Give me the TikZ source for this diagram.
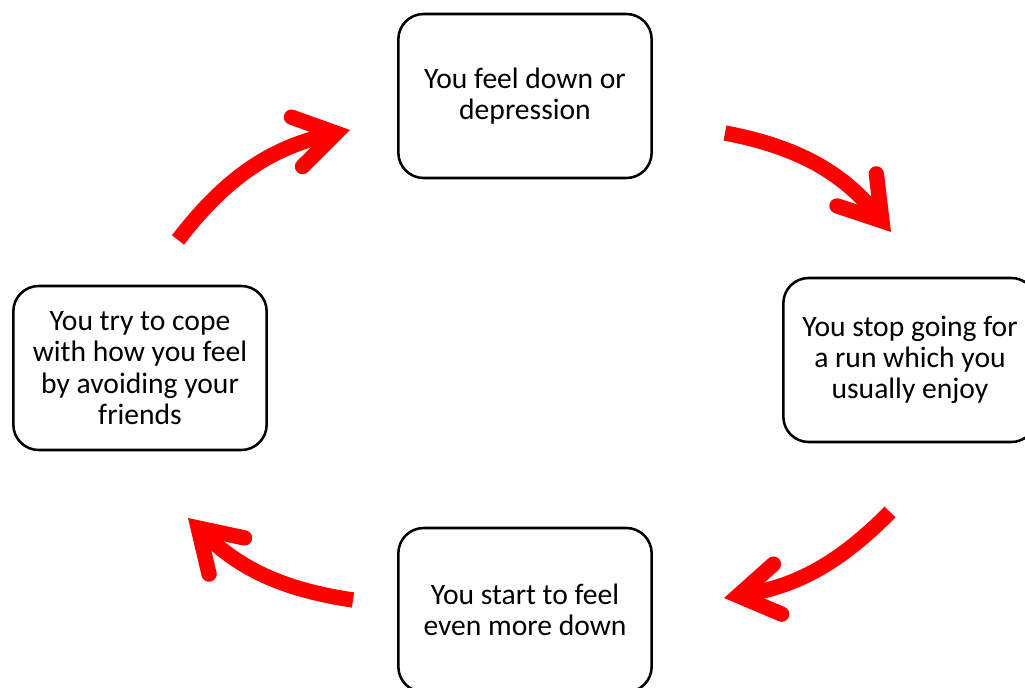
\documentclass[tikz,border=0pt]{standalone}
\usepackage{fontspec}
\setmainfont{Carlito}
\usetikzlibrary{arrows.meta, positioning}

\begin{document}
\begin{tikzpicture}[
    x=0.75pt, y=-0.75pt,
    every node/.style={font=\fontsize{22.2}{23.5}\selectfont},
    stage/.style={draw, line width=1.9pt, rounded corners=19pt, fill=white, align=center,
                  minimum width=190pt, minimum height=123pt, inner sep=4pt},
    cycle/.style={draw=red, line width=11.5pt,
                  -{Straight Barb[length=30pt, width=38pt, line cap=round, line join=miter]}}
]
\useasboundingbox (0,0) rectangle (1025,688);

% Die vier Stationen
\node[stage] (feel)  at (525,96)  {You feel down or\\depression};
\node[stage] (stop)  at (910,360) {You stop going for\\a run which you\\usually enjoy};
\node[stage] (start) at (525,610) {You start to feel\\even more down};
\node[stage] (cope)  at (140,368) {You try to cope\\with how you feel\\by avoiding your\\friends};

% Enden der Pfeile
\coordinate (a1) at (178,240); \coordinate (b1) at (350,130);
\coordinate (a2) at (725,133); \coordinate (b2) at (891,232);
\coordinate (a3) at (890,512); \coordinate (b3) at (724,598);
\coordinate (a4) at (353,600); \coordinate (b4) at (188,518);

% Kreislauf
\draw[cycle] (a1) to[bend left=20] (b1);
\draw[cycle] (a2) to[bend left=20] (b2);
\draw[cycle] (a3) to[bend left=18] (b3);
\draw[cycle] (a4) to[bend left=18] (b4);

\end{tikzpicture}
\end{document}
